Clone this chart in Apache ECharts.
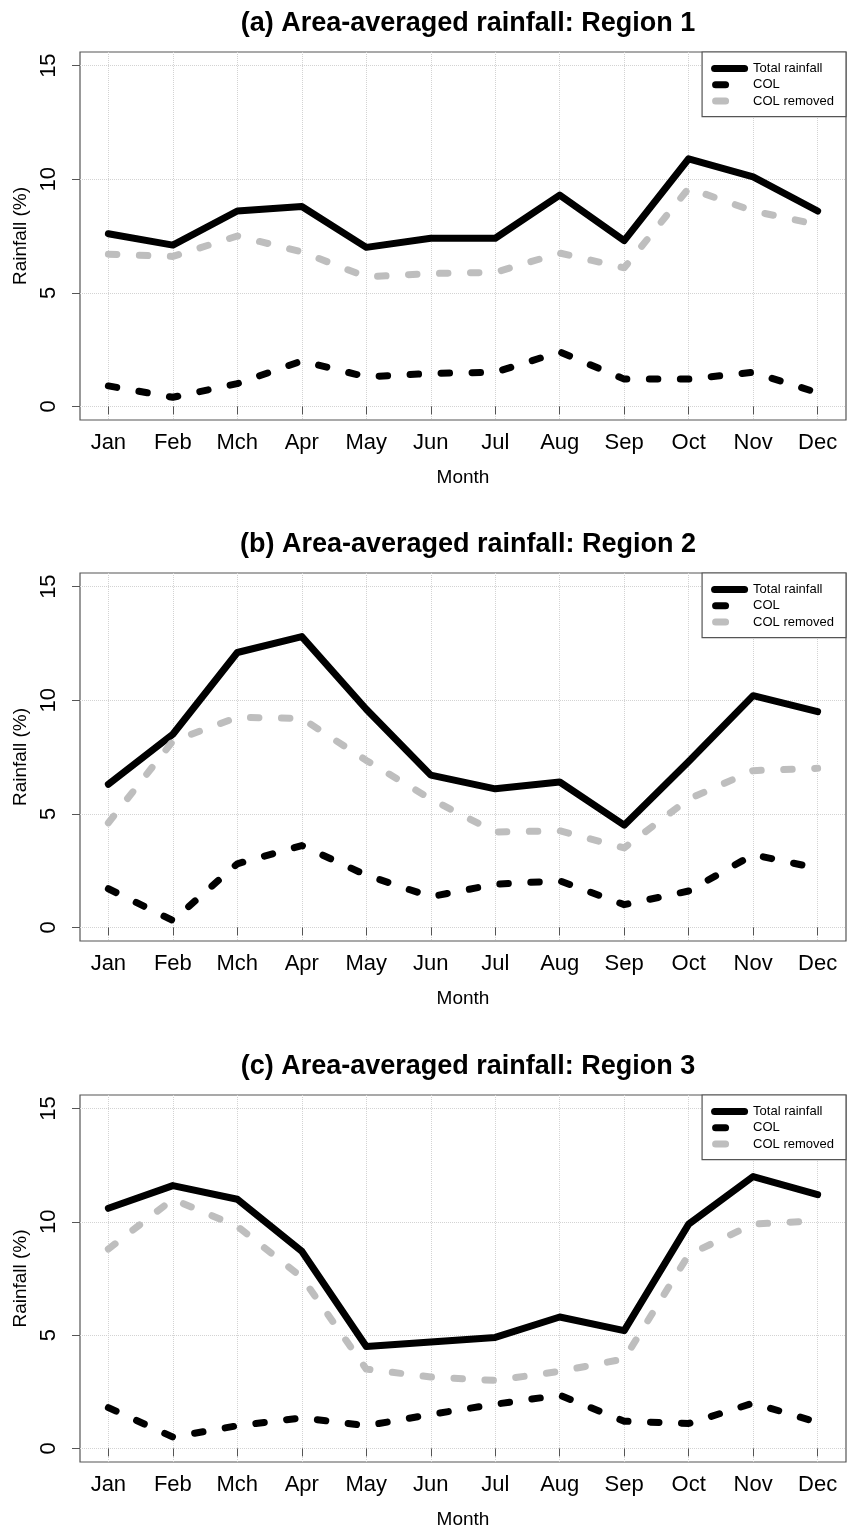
<!DOCTYPE html>
<html>
<head>
<meta charset="utf-8">
<script src="https://cdn.jsdelivr.net/npm/echarts@6/dist/echarts.min.js"></script>
<style>
  html, body { margin: 0; padding: 0; background: #fff; }
  #chart { width: 848px; height: 1530px; }
</style>
</head>
<body>
<div id="chart"></div>
<script>
// data
const months = ["Jan", "Feb", "Mch", "Apr", "May", "Jun", "Jul", "Aug", "Sep", "Oct", "Nov", "Dec"];
const monthIdx = [1, 2, 3, 4, 5, 6, 7, 8, 9, 10, 11, 12];
const yTicks = [0, 5, 10, 15];
const seriesNames = ["Total rainfall", "COL", "COL removed"];
const panelTitles = [
  "(a) Area-averaged rainfall: Region 1",
  "(b) Area-averaged rainfall: Region 2",
  "(c) Area-averaged rainfall: Region 3"
];

const totalR1 = [7.6, 7.1, 8.6, 8.8, 7.0, 7.4, 7.4, 9.3, 7.3, 10.9, 10.1, 8.6];
const colR1 = [0.9, 0.4, 1.0, 2.0, 1.3, 1.45, 1.5, 2.4, 1.2, 1.2, 1.5, 0.6];
const removedR1 = [6.7, 6.6, 7.5, 6.8, 5.7, 5.85, 5.9, 6.75, 6.1, 9.6, 8.6, 8.0];

const totalR2 = [6.3, 8.5, 12.1, 12.8, 9.6, 6.7, 6.1, 6.4, 4.5, 7.3, 10.2, 9.5];
const colR2 = [1.7, 0.3, 2.8, 3.6, 2.3, 1.35, 1.9, 2.05, 1.0, 1.6, 3.2, 2.6];
const removedR2 = [4.6, 8.2, 9.25, 9.2, 7.35, 5.65, 4.2, 4.25, 3.5, 5.65, 6.9, 7.0];

const totalR3 = [10.6, 11.6, 11.0, 8.7, 4.5, 4.7, 4.9, 5.8, 5.2, 9.9, 12.0, 11.2];
const colR3 = [1.8, 0.5, 1.0, 1.35, 1.0, 1.5, 1.95, 2.35, 1.2, 1.1, 2.0, 1.15];
const removedR3 = [8.8, 11.0, 9.8, 7.55, 3.5, 3.15, 3.0, 3.4, 3.95, 8.55, 9.9, 10.05];

const panels = [
  [totalR1, colR1, removedR1],
  [totalR2, colR2, removedR2],
  [totalR3, colR3, removedR3]
];

const font = "'Liberation Sans', Arial, Helvetica, sans-serif";
const gridTops = [52, 573, 1095];
const lineStyles = [
  { color: "#000", width: 7, type: "solid", cap: "round", join: "round" },
  { color: "#000", width: 7, type: [8.5, 22.5], cap: "round", join: "round" },
  { color: "#bebebe", width: 7, type: [8.5, 22.5], cap: "round", join: "round" }
];
// legend samples: a long rounded bar for the solid line, one short dash for the dashed ones
const longBar = "path://M3.5,0H33.5A3.5,3.5,0,0,1,33.5,7H3.5A3.5,3.5,0,0,1,3.5,0Z";
const shortDash = "path://M5.5,0H15.5A3.5,3.5,0,0,1,15.5,7H5.5A3.5,3.5,0,0,1,5.5,0ZM37,7";

const chart = echarts.init(document.getElementById("chart"));

const title = [], grid = [], xAxis = [], yAxis = [], legend = [], series = [];

panels.forEach((panel, i) => {
  const top = gridTops[i];
  title.push({
    text: panelTitles[i],
    left: 463,
    textAlign: "center",
    top: top - 47,
    textStyle: { fontFamily: font, fontSize: 27, fontWeight: "bold", color: "#000" }
  });
  grid.push({
    left: 80, right: 2, top: top, height: 368,
    show: true, borderColor: "#555", borderWidth: 1.2, backgroundColor: "transparent"
  });
  xAxis.push({
    type: "value", gridIndex: i, min: 0.56, max: 12.44,
    name: "Month", nameLocation: "middle", nameGap: 48,
    nameTextStyle: { fontFamily: font, fontSize: 19, color: "#000" },
    axisLine: { show: false },
    axisTick: { show: true, customValues: monthIdx, length: 8, lineStyle: { color: "#555" } },
    axisLabel: {
      customValues: monthIdx, margin: 12, fontFamily: font, fontSize: 22, color: "#000",
      formatter: v => months[Math.round(v) - 1]
    },
    splitLine: { show: true, lineStyle: { color: "#d3d3d3", type: "dotted", width: 1 } }
  });
  yAxis.push({
    type: "value", gridIndex: i, min: -0.6, max: 15.6,
    name: "Rainfall (%)", nameLocation: "middle", nameGap: 48,
    nameTextStyle: { fontFamily: font, fontSize: 19, color: "#000" },
    axisLine: { show: false },
    axisTick: { show: true, customValues: yTicks, length: 8, lineStyle: { color: "#555" } },
    axisLabel: { customValues: yTicks, rotate: 90, margin: 20, fontFamily: font, fontSize: 22, color: "#000" },
    splitLine: { show: true, lineStyle: { color: "#d3d3d3", type: "dotted", width: 1 } }
  });
  legend.push({
    orient: "vertical", right: 2, top: top,
    padding: [10, 12, 9, 9], itemGap: 3.3, itemWidth: 37, itemHeight: 7,
    borderColor: "#555", borderWidth: 1.2, backgroundColor: "#fff",
    textStyle: { fontFamily: font, fontSize: 13, color: "#000" },
    data: [
      { name: seriesNames[0], icon: longBar, itemStyle: { color: "#000" } },
      { name: seriesNames[1], icon: shortDash, itemStyle: { color: "#000" } },
      { name: seriesNames[2], icon: shortDash, itemStyle: { color: "#bebebe" } }
    ]
  });
  panel.forEach((vals, k) => {
    series.push({
      name: seriesNames[k], type: "line", xAxisIndex: i, yAxisIndex: i,
      data: monthIdx.map((m, j) => [m, vals[j]]),
      symbol: "none", smooth: false,
      lineStyle: lineStyles[k],
      itemStyle: { color: lineStyles[k].color },
      z: 2 + k
    });
  });
});

chart.setOption({
  animation: false,
  backgroundColor: "#fff",
  title, grid, xAxis, yAxis, legend, series
});
</script>
</body>
</html>
